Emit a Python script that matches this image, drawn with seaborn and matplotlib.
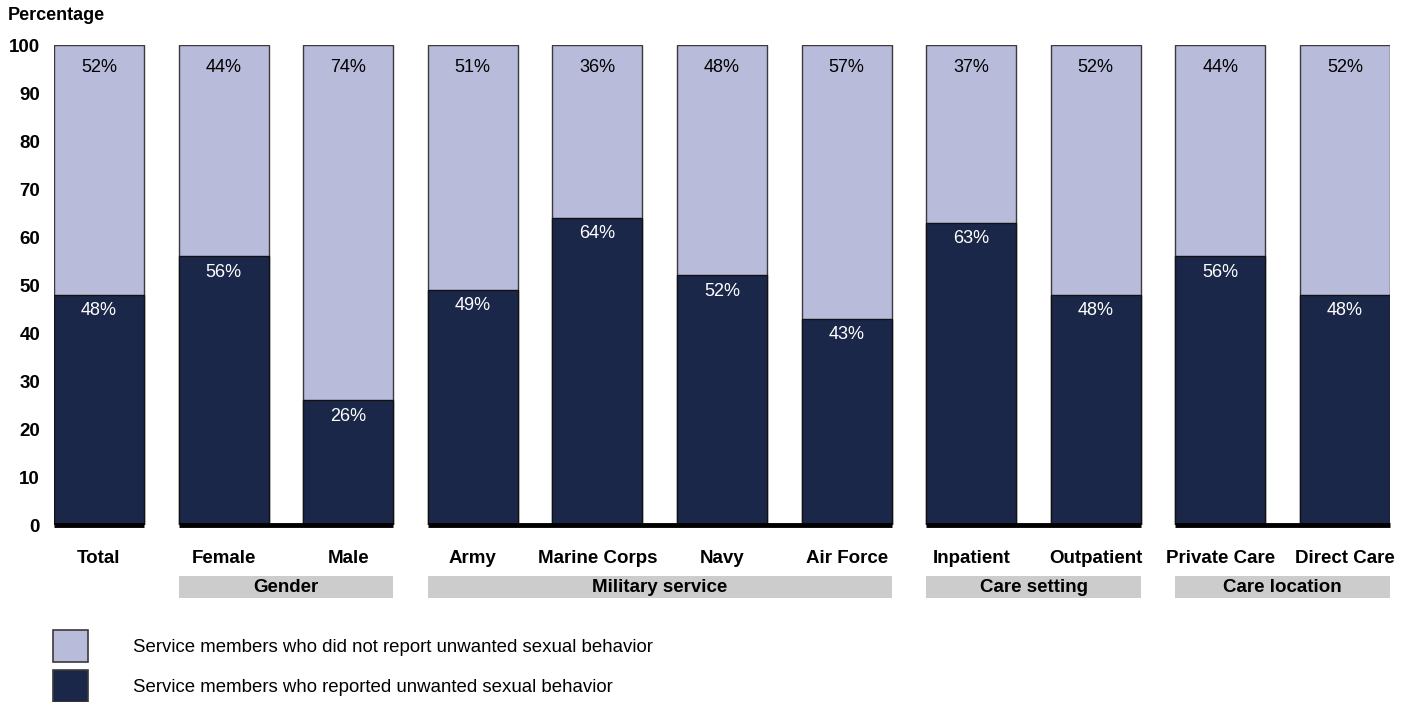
import numpy as np
import pandas as pd
import matplotlib
matplotlib.use("Agg")
import matplotlib.pyplot as plt
import seaborn as sns
from matplotlib.patches import Patch, Rectangle
from matplotlib.transforms import blended_transform_factory

# chart data
categories = ["Total", "Female", "Male", "Army", "Marine Corps", "Navy", "Air Force",
              "Inpatient", "Outpatient", "Private Care", "Direct Care"]
reported = [48, 56, 26, 49, 64, 52, 43, 63, 48, 56, 48]
not_reported = [52, 44, 74, 51, 36, 48, 57, 37, 52, 44, 52]
groups = [("", 0, 0), ("Gender", 1, 2), ("Military service", 3, 6),
          ("Care setting", 7, 8), ("Care location", 9, 10)]
legend_labels = ["Service members who did not report unwanted sexual behavior",
                 "Service members who reported unwanted sexual behavior"]

dark = "#1b2749"
light = "#b8bbda"
edge = "#3a3a3a"

sns.set_theme(style="white")
plt.rcParams["font.family"] = ["Liberation Sans", "DejaVu Sans"]
plt.rcParams["text.color"] = "black"

df = pd.DataFrame({"category": categories, "reported": reported,
                   "not_reported": not_reported})
df["total"] = df["reported"] + df["not_reported"]

fig = plt.figure(figsize=(14.08, 7.02), dpi=100)
ax = fig.add_axes([54 / 1408, 177 / 702, 1336 / 1408, 480 / 702])

w = 0.722
sns.barplot(data=df, x="category", y="total", color=light, width=w,
            edgecolor=edge, linewidth=1.0, saturation=1, ax=ax)
sns.barplot(data=df, x="category", y="reported", color=dark, width=w,
            edgecolor="#111111", linewidth=1.0, saturation=1, ax=ax)

ax.set_xlim(-w / 2, len(categories) - 1 + w / 2)
ax.set_ylim(0, 100)
ax.set_yticks(range(0, 101, 10))
ax.set_xlabel("")
ax.set_ylabel("")
sns.despine(ax=ax, left=True, bottom=True)
ax.tick_params(axis="y", length=0, pad=10, labelsize=13.5, labelcolor="black")
ax.tick_params(axis="x", length=0, pad=18, labelsize=13.5, labelcolor="black")
for lbl in ax.get_yticklabels() + ax.get_xticklabels():
    lbl.set_fontweight("bold")

# percentage labels
for i, (r, n) in enumerate(zip(reported, not_reported)):
    ax.annotate(f"{n}%", (i, r + n), xytext=(0, -16), textcoords="offset points",
                ha="center", va="center", fontsize=13, color="black")
    ax.annotate(f"{r}%", (i, r), xytext=(0, -11.5), textcoords="offset points",
                ha="center", va="center", fontsize=13, color="white")

# baselines and group boxes
trans = blended_transform_factory(ax.transData, ax.transAxes)
for name, a, b in groups:
    ax.hlines(0, a - w / 2, b + w / 2, color="black", linewidth=3.5,
              clip_on=False, zorder=5)
    if name:
        ax.add_patch(Rectangle((a - w / 2, -0.152), (b - a) + w, 0.046,
                               transform=trans, facecolor="#cccccc",
                               edgecolor="none", clip_on=False))
        ax.text((a + b) / 2, -0.131, name, transform=trans, ha="center",
                va="center", fontsize=13.5, fontweight="bold", color="black")

fig.text(8 / 1408, 1 - 15 / 702, "Percentage", ha="left", va="center",
         fontsize=13, fontweight="bold", color="black")

handles = [Patch(facecolor=light, edgecolor=edge, linewidth=1.2),
           Patch(facecolor=dark, edgecolor=edge, linewidth=1.2)]
fig.legend(handles, legend_labels, loc="upper left",
           bbox_to_anchor=(53 / 1408, 1 - 630 / 702), frameon=False,
           fontsize=13.4, handlelength=1.9, handleheight=2.3, labelspacing=0.4,
           handletextpad=2.4, borderpad=0, borderaxespad=0, labelcolor="black")

fig.savefig("out.png", dpi=100)
